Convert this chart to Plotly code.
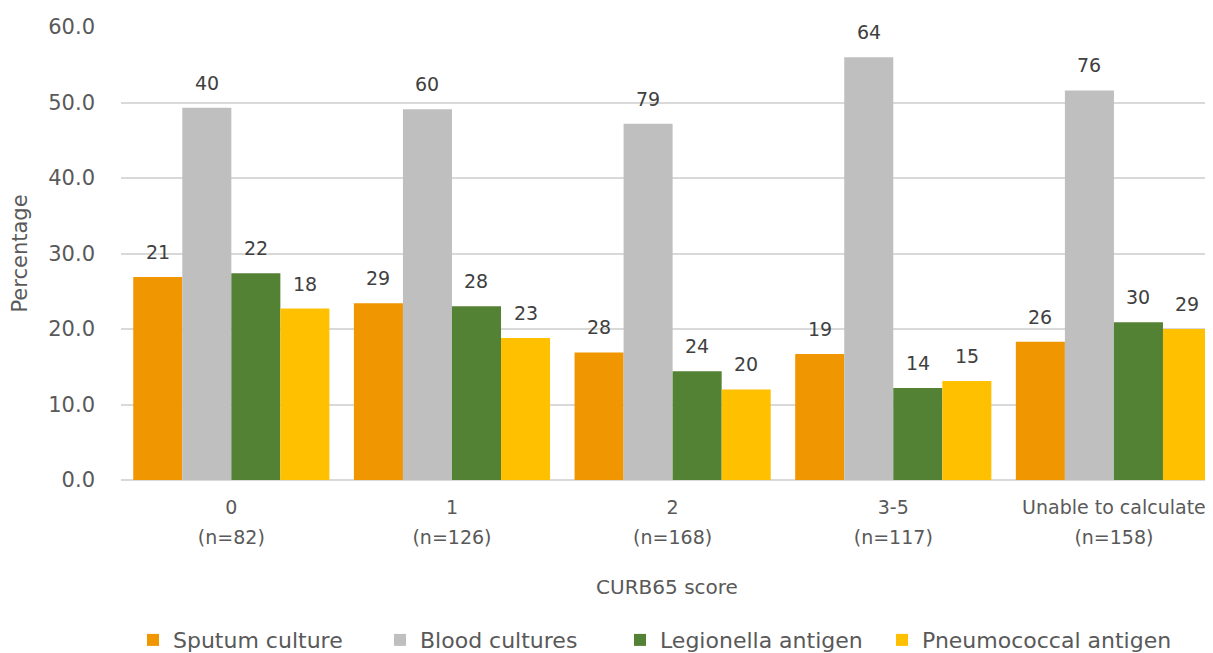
import plotly.graph_objects as go

categories = ["0", "1", "2", "3-5", "Unable to calculate"]
group_sizes = ["(n=82)", "(n=126)", "(n=168)", "(n=117)", "(n=158)"]
series_names = ["Sputum culture", "Blood cultures", "Legionella antigen", "Pneumococcal antigen"]
sputum = [26.9, 23.4, 16.9, 16.7, 18.3]
blood = [49.3, 49.1, 47.2, 56.0, 51.6]
legionella = [27.4, 23.0, 14.4, 12.2, 20.9]
pneumo = [22.7, 18.8, 12.0, 13.1, 20.0]
sputum_n = [21, 29, 28, 19, 26]
blood_n = [40, 60, 79, 64, 76]
legionella_n = [22, 28, 24, 14, 30]
pneumo_n = [18, 23, 20, 15, 29]

colors = ["#EF9600", "#BFBFBF", "#548235", "#FFC000"]
values = [sputum, blood, legionella, pneumo]
counts = [sputum_n, blood_n, legionella_n, pneumo_n]

FONT = "DejaVu Sans, sans-serif"
# page body has an 8px default margin; figure is sized so it ends at the window edge
W, H = 1205, 645
ML, MR, MT, MB = 113, 0, 19, 173
xr = [-0.5, 4.449]
px_per_unit = (W - ML - MR) / (xr[1] - xr[0])
bargap = 0.111
bar_w = px_per_unit * (1 - bargap) / 4
legend_left_px = [125, 372, 612, 874]

ticktext = ['<span style="font-size:19px">%s</span><br><span style="font-size:19px">%s</span>' % (c, g)
            for c, g in zip(categories, group_sizes)]

legend_ids = ["legend", "legend2", "legend3", "legend4"]

fig = go.Figure()
for i, (name, vals) in enumerate(zip(series_names, values)):
    fig.add_trace(go.Bar(x=categories, y=vals, name=name, marker_color=colors[i],
                         marker_line_width=0, legend=legend_ids[i], showlegend=True))

for i, (vals, ns) in enumerate(zip(values, counts)):
    xs = (i - 1.5) * bar_w
    for c, v, n in zip(categories, vals, ns):
        fig.add_annotation(x=c, y=v, text=str(n), showarrow=False, xshift=xs, yshift=25,
                           yanchor="middle", font=dict(family=FONT, size=19, color="#404040"))

legend_common = dict(orientation="h", xref="container", xanchor="left", yref="container",
                     y=0.02, yanchor="middle", font=dict(size=22, color="#595959"),
                     itemwidth=30, bgcolor="rgba(0,0,0,0)")
legend_layout = {}
for lid, lx in zip(legend_ids, legend_left_px):
    legend_layout[lid] = dict(legend_common, x=lx / W)

fig.update_layout(
    width=W, height=H, margin=dict(l=ML, r=MR, t=MT, b=MB, autoexpand=False),
    showlegend=True,
    barmode="group", bargap=bargap, bargroupgap=0,
    plot_bgcolor="white", paper_bgcolor="white",
    font=dict(family=FONT, size=19, color="#595959"),
    xaxis=dict(range=xr, title=dict(text="CURB65 score", standoff=33, font=dict(size=20)),
               showline=False, tickfont=dict(size=23), automargin=False, ticklabelstandoff=10,
               tickmode="array", tickvals=categories, ticktext=ticktext),
    yaxis=dict(range=[0, 60], dtick=10, tickformat=".1f", gridcolor="#D9D9D9", gridwidth=1.5,
               zeroline=True, zerolinecolor="#D9D9D9", zerolinewidth=2, automargin=False,
               tickfont=dict(size=21), ticklabelstandoff=25,
               title=dict(text="Percentage", standoff=22, font=dict(size=21))),
    **legend_layout,
)
fig.write_html("out.html")
